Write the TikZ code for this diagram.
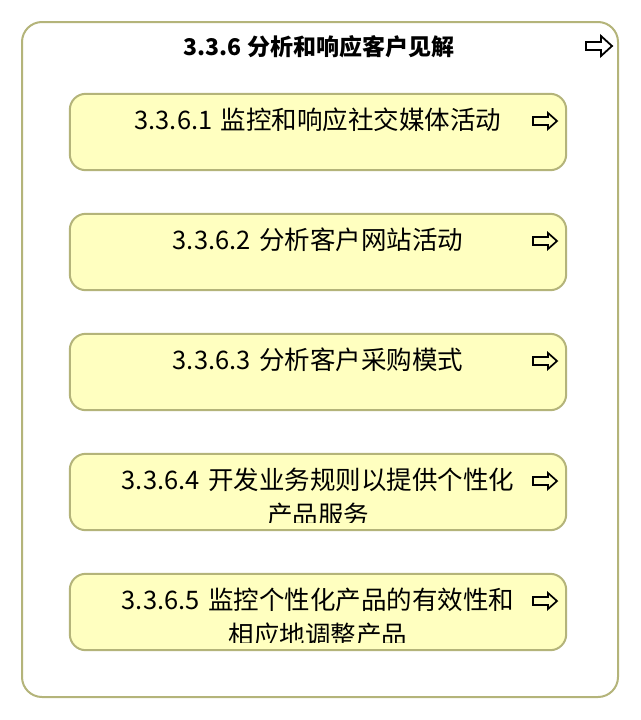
\documentclass[tikz,border=0pt]{standalone}
\usepackage{fontspec}
\setmainfont{Noto Sans CJK SC}
\usetikzlibrary{calc}
\definecolor{boxfill}{RGB}{255,255,192}
\definecolor{boxline}{RGB}{180,180,122}
\begin{document}
\begin{tikzpicture}[x=1pt,y=-1pt,
  outerbox/.style={draw=boxline, line width=2pt, rounded corners=20pt, fill=white,
    minimum width=596pt, minimum height=675pt, inner sep=0pt},
  subbox/.style={fill=boxfill, rounded corners=16pt,
    minimum width=496pt, minimum height=76pt, inner sep=0pt},
  subline/.style={draw=boxline, line width=2pt, rounded corners=16pt},
  lbl/.style={anchor=north, inner sep=0pt, align=center, text width=430pt,
    font=\fontsize{25.5}{35}\selectfont},
  ttl/.style={inner sep=0pt, font=\fontsize{23}{28}\selectfont\bfseries},
  bigarrow/.pic={\draw[line width=1.8pt, line join=miter]
    (-13,-4) -- (2,-4) -- (2,-10) -- (13,0) -- (2,10) -- (2,4) -- (-13,4) -- cycle;},
  smallarrow/.pic={\draw[line width=1.7pt, line join=miter]
    (-12,-4) -- (3,-4) -- (3,-8) -- (12,0) -- (3,8) -- (3,4) -- (-12,4) -- cycle;}
]
\useasboundingbox (0,0) rectangle (640,720);
\node[outerbox] (outer) at (320,359.5) {};
\node[ttl] (title) at (319,47) {3.3.6 分析和响应客户见解};
\pic at (599,46) {bigarrow};

\foreach \i/\y in {1/132,2/252,3/372,4/492,5/612}{
  \node[subbox] (b\i) at (318,\y) {};
}
\begin{scope}
  \clip ($(b1.south west)+(1,-8)$) rectangle ($(b1.north east)+(-1,1)$);
  \node[lbl] (t1) at ($(b1.north)+(0,13.5)$) {3.3.6.1 监控和响应社交媒体活动};
\end{scope}
\begin{scope}
  \clip ($(b2.south west)+(1,-8)$) rectangle ($(b2.north east)+(-1,1)$);
  \node[lbl] (t2) at ($(b2.north)+(0,13.5)$) {3.3.6.2 分析客户网站活动};
\end{scope}
\begin{scope}
  \clip ($(b3.south west)+(1,-8)$) rectangle ($(b3.north east)+(-1,1)$);
  \node[lbl] (t3) at ($(b3.north)+(0,13.5)$) {3.3.6.3 分析客户采购模式};
\end{scope}
\begin{scope}
  \clip ($(b4.south west)+(1,-8)$) rectangle ($(b4.north east)+(-1,1)$);
  \node[lbl] (t4) at ($(b4.north)+(0,13.5)$) {3.3.6.4 开发业务规则以提供个性化\\产品服务};
\end{scope}
\begin{scope}
  \clip ($(b5.south west)+(1,-8)$) rectangle ($(b5.north east)+(-1,1)$);
  \node[lbl] (t5) at ($(b5.north)+(0,13.5)$) {3.3.6.5 监控个性化产品的有效性和\\相应地调整产品};
\end{scope}
\foreach \i/\y in {1/132,2/252,3/372,4/492,5/612}{
  \draw[subline] (b\i.south west) rectangle (b\i.north east);
  \pic at (545,\y-11) {smallarrow};
}
\end{tikzpicture}
\end{document}
